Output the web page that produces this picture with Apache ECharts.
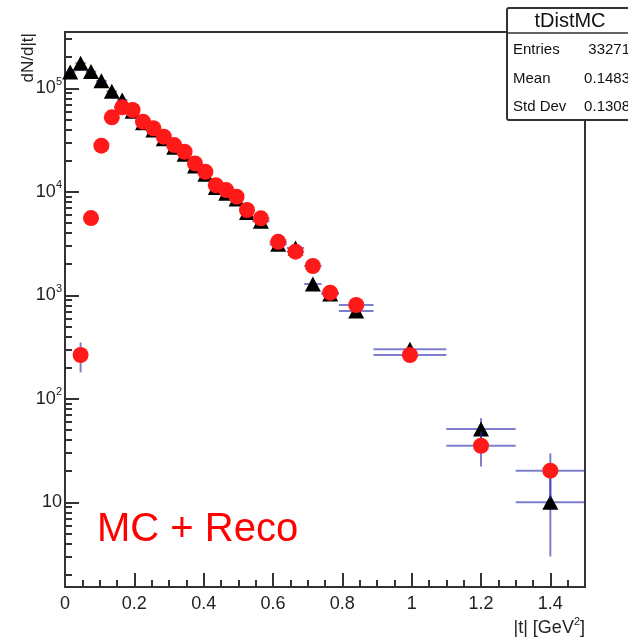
<!DOCTYPE html>
<html>
<head>
<meta charset="utf-8">
<script src="https://cdn.jsdelivr.net/npm/echarts@6/dist/echarts.min.js"></script>
<style>
  html, body { margin: 0; padding: 0; background: #fff; }
  #chart { width: 628px; height: 641px; }
</style>
</head>
<body>
<div id="chart"></div>
<script>
  // bin edges in |t| (GeV^2), variable width
  var binEdges = [0, 0.03, 0.06, 0.09, 0.12, 0.15, 0.18, 0.21, 0.24, 0.27, 0.30, 0.33, 0.36,
    0.39, 0.42, 0.45, 0.48, 0.51, 0.54, 0.59, 0.64, 0.69, 0.74, 0.79, 0.89, 1.1, 1.3, 1.5];

  // MC (black triangles)
  var mcValues = [144000, 175000, 145000, 118000, 93500, 77000, 60000, 46500, 39500, 32500,
    27000, 23000, 17800, 14800, 11000, 9700, 8500, 6300, 5200, 3110, 2870, 1285, 1030, 705,
    301, 51, 10];
  var mcErrors = [1500, 1700, 1500, 1300, 1100, 950, 850, 740, 680, 620, 560, 520, 460, 410,
    350, 330, 310, 270, 180, 140, 130, 95, 60, 40, 32, 14, 7];

  // Reco (red circles)
  var recoValues = [null, 265, 5580, 27900, 52400, 65500, 61700, 47600, 41100, 34100, 28300,
    24400, 18800, 15600, 11600, 10400, 8970, 6670, 5540, 3290, 2640, 1920, 1060, 806, 265,
    35.2, 20.2];
  var recoErrors = [0, 85, 260, 560, 760, 850, 830, 720, 660, 600, 540, 500, 440, 400, 340,
    320, 300, 260, 190, 150, 130, 110, 60, 40, 30, 13, 9.5];

  var yMajorTicks = [10, 100, 1000, 10000, 100000];
  var yMinorTicks = [2, 3, 4, 5, 6, 7, 8, 9, 20, 30, 40, 50, 60, 70, 80, 90,
    200, 300, 400, 500, 600, 700, 800, 900, 2000, 3000, 4000, 5000, 6000, 7000, 8000, 9000,
    20000, 30000, 40000, 50000, 60000, 70000, 80000, 90000, 200000, 300000];

  var statsRows = [['Entries', '33271'], ['Mean', '0.1483'], ['Std Dev', '0.1308']];

  var FONT = 'Liberation Sans, Arial, Helvetica, sans-serif';
  var AXIS_COLOR = '#333';
  var ERR_COLOR = 'rgba(40,40,170,0.6)';

  function buildRows(values, errors) {
    var rows = [];
    for (var i = 0; i < values.length; i++) {
      if (values[i] == null) continue;
      var lo = binEdges[i], hi = binEdges[i + 1];
      rows.push([(lo + hi) / 2, values[i], lo, hi, values[i] - errors[i], values[i] + errors[i]]);
    }
    return rows;
  }

  function renderErrors(params, api) {
    var x = api.value(0), y = api.value(1);
    var left = api.coord([api.value(2), y]);
    var right = api.coord([api.value(3), y]);
    var low = api.coord([x, api.value(4)]);
    var high = api.coord([x, api.value(5)]);
    var style = { stroke: ERR_COLOR, lineWidth: 2 };
    return {
      type: 'group',
      children: [
        { type: 'line', shape: { x1: left[0], y1: left[1], x2: right[0], y2: right[1] }, style: style },
        { type: 'line', shape: { x1: low[0], y1: low[1], x2: high[0], y2: high[1] }, style: style }
      ]
    };
  }

  var mcRows = buildRows(mcValues, mcErrors);
  var recoRows = buildRows(recoValues, recoErrors);

  var chart = echarts.init(document.getElementById('chart'));

  var statsGraphic = [
    { type: 'rect', z: 100, shape: { x: 507, y: 8, width: 140, height: 112, r: 2 },
      style: { fill: '#fff', stroke: AXIS_COLOR, lineWidth: 2 } },
    { type: 'line', z: 101, shape: { x1: 507, y1: 33, x2: 640, y2: 33 },
      style: { stroke: AXIS_COLOR, lineWidth: 1.5 } },
    { type: 'text', z: 101, x: 570, y: 21,
      style: { text: 'tDistMC', fontSize: 20, fontFamily: FONT, fill: '#111', align: 'center', verticalAlign: 'middle' } }
  ];
  statsRows.forEach(function (row, i) {
    var y = 50 + i * 28.5;
    statsGraphic.push({ type: 'text', z: 101, x: 513, y: y,
      style: { text: row[0], fontSize: 15, fontFamily: FONT, fill: '#111', align: 'left', verticalAlign: 'middle' } });
    statsGraphic.push({ type: 'text', z: 101, x: 630, y: y,
      style: { text: row[1], fontSize: 15, fontFamily: FONT, fill: '#111', align: 'right', verticalAlign: 'middle' } });
  });

  chart.setOption({
    animation: false,
    backgroundColor: '#fff',
    grid: {
      left: 65, right: 43, top: 32, bottom: 54,
      show: true, borderColor: AXIS_COLOR, borderWidth: 2
    },
    xAxis: [{
      type: 'value', min: 0, max: 1.5, interval: 0.2,
      axisLine: { lineStyle: { color: AXIS_COLOR, width: 2 } },
      axisTick: { inside: true, length: 14, lineStyle: { color: AXIS_COLOR, width: 2 } },
      axisLabel: { showMaxLabel: false, fontSize: 18, fontFamily: FONT, color: '#222', margin: 8 },
      splitLine: { show: false }
    }, {
      type: 'value', min: 0, max: 1.5, interval: 0.05, position: 'bottom',
      axisLine: { show: false },
      axisTick: { inside: true, length: 7, lineStyle: { color: AXIS_COLOR, width: 2 } },
      axisLabel: { show: false },
      splitLine: { show: false }
    }],
    yAxis: [{
      type: 'log', min: 1.52, max: 350000, position: 'left',
      axisLine: { show: true, lineStyle: { color: AXIS_COLOR, width: 2 } },
      axisTick: { show: true, inside: true, length: 14, customValues: yMajorTicks,
        lineStyle: { color: AXIS_COLOR, width: 2 } },
      axisLabel: {
        customValues: yMajorTicks, margin: 3, fontSize: 18, fontFamily: FONT, color: '#222', lineHeight: 24,
        formatter: function (v) {
          var n = Math.round(Math.log(v) / Math.LN10);
          return n === 1 ? '10' : '10{sup|' + n + '}';
        },
        rich: { sup: { fontSize: 11, fontFamily: FONT, color: '#222', verticalAlign: 'top', lineHeight: 12 } }
      },
      splitLine: { show: false }
    }, {
      type: 'log', min: 1.52, max: 350000, position: 'left',
      axisLine: { show: false },
      axisTick: { show: true, inside: true, length: 7, customValues: yMinorTicks,
        lineStyle: { color: AXIS_COLOR, width: 2 } },
      axisLabel: { show: false },
      splitLine: { show: false }
    }],
    graphic: statsGraphic.concat([
      { type: 'text', x: 585, y: 628,
        style: { text: '|t| [GeV{sup|2}]', fontSize: 18, fontFamily: FONT, fill: '#222', lineHeight: 24,
          align: 'right', verticalAlign: 'middle',
          rich: { sup: { fontSize: 11, fontFamily: FONT, fill: '#222', verticalAlign: 'top', lineHeight: 12 } } } },
      { type: 'text', x: 28, y: 33, rotation: Math.PI / 2,
        style: { text: 'dN/d|t|', fontSize: 17, fontFamily: FONT, fill: '#222', align: 'right', verticalAlign: 'middle' } },
      { type: 'text', x: 97, y: 530,
        style: { text: 'MC + Reco', fontSize: 40, fontFamily: FONT, fill: '#ff0000', align: 'left', verticalAlign: 'middle' } }
    ]),
    series: [{
      name: 'MC errors', type: 'custom', z: 2, renderItem: renderErrors,
      encode: { x: [0, 2, 3], y: [1, 4, 5] }, data: mcRows
    }, {
      name: 'MC', type: 'scatter', z: 3, symbol: 'triangle', symbolSize: [16, 15],
      itemStyle: { color: '#000', opacity: 1 },
      data: mcRows.map(function (r) { return [r[0], r[1]]; })
    }, {
      name: 'Reco errors', type: 'custom', z: 4, renderItem: renderErrors,
      encode: { x: [0, 2, 3], y: [1, 4, 5] }, data: recoRows
    }, {
      name: 'Reco', type: 'scatter', z: 5, symbol: 'circle', symbolSize: 16,
      itemStyle: { color: '#ff1a1a', opacity: 1 },
      data: recoRows.map(function (r) { return [r[0], r[1]]; })
    }]
  });
</script>
</body>
</html>
